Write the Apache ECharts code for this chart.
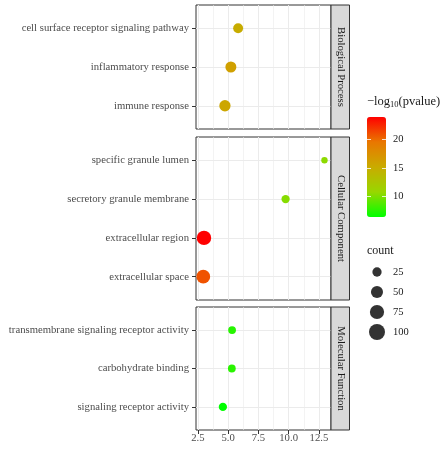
<!DOCTYPE html>
<html>
<head>
<meta charset="utf-8">
<script src="https://cdn.jsdelivr.net/npm/echarts@6/dist/echarts.min.js"></script>
<style>
  html, body { margin: 0; padding: 0; background: #ffffff; }
  #chart { width: 444px; height: 451px; }
</style>
</head>
<body>
<div id="chart"></div>
<script>
  // GO terms for each facet, top to bottom
  const bpTerms = ['cell surface receptor signaling pathway', 'inflammatory response', 'immune response'];
  const ccTerms = ['specific granule lumen', 'secretory granule membrane', 'extracellular region', 'extracellular space'];
  const mfTerms = ['transmembrane signaling receptor activity', 'carbohydrate binding', 'signaling receptor activity'];
  const facetNames = ['Biological Process', 'Cellular Component', 'Molecular Function'];

  // x value, -log10(pvalue), gene count
  const bpX = [5.83, 5.23, 4.74];
  const bpLogP = [15.0, 16.1, 15.6];
  const bpCount = [30, 39, 42];

  const ccX = [12.96, 9.75, 3.01, 2.95];
  const ccLogP = [10.4, 10.2, 24.0, 20.9];
  const ccCount = [8, 18, 78, 70];

  const mfX = [5.33, 5.31, 4.57];
  const mfLogP = [7.4, 7.5, 6.3];
  const mfCount = [15, 15, 18];

  const xMajorTicks = [2.5, 5.0, 7.5, 10.0, 12.5];
  const xMinorTicks = [3.75, 6.25, 8.75, 11.25];
  const colorTicks = [10, 15, 20];
  const countBreaks = [25, 50, 75, 100];

  const xMin = 2.35, xMax = 13.5;
  const pMin = 6.3, pMax = 24.0;

  const FONT = 'Liberation Serif';
  const AXIS_FONT = 10.7;
  const GRID_LINE = '#ebebeb';
  const DARK = '#333333';

  const facets = [
    { terms: bpTerms, x: bpX, logP: bpLogP, count: bpCount },
    { terms: ccTerms, x: ccX, logP: ccLogP, count: ccCount },
    { terms: mfTerms, x: mfX, logP: mfLogP, count: mfCount },
  ];

  // panel boxes (free space: height follows number of terms)
  const panelLeft = 196;
  const panelWidth = 135;
  const panelBox = [
    { top: 5, height: 124 },
    { top: 137, height: 163 },
    { top: 307, height: 123 },
  ];

  const sizeOf = (n) => 2.6 + 1.34 * Math.sqrt(n);

  const grids = [];
  const xAxes = [];
  const yAxes = [];
  const series = [];
  const graphics = [];

  facets.forEach((f, i) => {
    const isBottom = i === facets.length - 1;
    grids.push({
      left: panelLeft,
      top: panelBox[i].top,
      width: panelWidth,
      height: panelBox[i].height,
      show: true,
      borderColor: DARK,
      borderWidth: 1,
      backgroundColor: '#ffffff',
    });
    // major x grid + bottom labels
    xAxes.push({
      type: 'value',
      gridIndex: i,
      min: xMin,
      max: xMax,
      position: 'bottom',
      axisLine: { show: false, onZero: false },
      axisTick: {
        show: isBottom,
        customValues: xMajorTicks,
        length: 4,
        lineStyle: { color: DARK },
      },
      axisLabel: {
        show: isBottom,
        customValues: xMajorTicks,
        formatter: (v) => v.toFixed(1),
        color: '#4d4d4d',
        fontSize: AXIS_FONT,
        fontFamily: FONT,
        margin: 3,
      },
      splitLine: { show: true, lineStyle: { color: GRID_LINE, width: 1 } },
    });
    // minor x grid
    xAxes.push({
      type: 'value',
      gridIndex: i,
      min: xMin,
      max: xMax,
      position: 'top',
      axisLine: { show: false, onZero: false },
      axisTick: { show: false, customValues: xMinorTicks },
      axisLabel: { show: false },
      splitLine: { show: true, lineStyle: { color: GRID_LINE, width: 0.6 } },
    });
    const idx = f.terms.map((t, k) => k);
    yAxes.push({
      type: 'value',
      gridIndex: i,
      inverse: true,
      min: -0.6,
      max: f.terms.length - 1 + 0.6,
      axisLine: { show: false, onZero: false },
      axisTick: {
        show: true,
        customValues: idx,
        length: 4,
        lineStyle: { color: DARK },
      },
      axisLabel: {
        customValues: idx,
        formatter: (v) => f.terms[v],
        color: '#4d4d4d',
        fontSize: AXIS_FONT,
        fontFamily: FONT,
        margin: 7,
      },
      splitLine: { show: true, lineStyle: { color: GRID_LINE, width: 1 } },
    });
    series.push({
      type: 'scatter',
      xAxisIndex: i * 2,
      yAxisIndex: i,
      data: f.terms.map((t, k) => [f.x[k], k, f.logP[k], f.count[k]]),
      symbolSize: (d) => sizeOf(d[3]),
      itemStyle: { opacity: 1 },
      emphasis: { disabled: true },
      z: 5,
    });

    // facet strip on the right
    graphics.push({
      type: 'rect',
      shape: { x: panelLeft + panelWidth, y: panelBox[i].top, width: 18.5, height: panelBox[i].height },
      style: { fill: '#d9d9d9', stroke: DARK, lineWidth: 1 },
      z: 1,
    });
    graphics.push({
      type: 'text',
      x: panelLeft + panelWidth + 9.5,
      y: panelBox[i].top + panelBox[i].height / 2,
      rotation: -Math.PI / 2,
      style: {
        text: facetNames[i],
        fill: '#1a1a1a',
        font: AXIS_FONT + 'px "' + FONT + '"',
        align: 'center',
        verticalAlign: 'middle',
      },
      z: 2,
    });
  });

  // colour bar scale (sits over the visualMap bar)
  grids.push({ left: 367, top: 117, width: 19, height: 100 });
  xAxes.push({ type: 'value', gridIndex: 3, show: false, min: 0, max: 1 });
  const barTicks = {
    show: true,
    inside: true,
    length: 4,
    customValues: colorTicks,
    lineStyle: { color: '#ffffff', width: 1, opacity: 0.8 },
  };
  yAxes.push({
    type: 'value', gridIndex: 3, position: 'left', min: pMin, max: pMax, z: 10,
    axisLine: { show: false, onZero: false }, splitLine: { show: false },
    axisTick: barTicks,
    axisLabel: { show: false },
  });
  yAxes.push({
    type: 'value', gridIndex: 3, position: 'right', min: pMin, max: pMax, z: 10,
    axisLine: { show: false, onZero: false }, splitLine: { show: false },
    axisTick: barTicks,
    axisLabel: {
      customValues: colorTicks,
      color: '#1a1a1a',
      fontSize: 10.5,
      fontFamily: FONT,
      margin: 7,
    },
  });

  // count legend keys
  grids.push({ left: 367, top: 262, width: 20, height: 80 });
  xAxes.push({ type: 'value', gridIndex: 4, show: false, min: -1, max: 1 });
  yAxes.push({
    type: 'category', gridIndex: 4, position: 'right', inverse: true,
    data: countBreaks.map(String),
    axisLine: { show: false, onZero: false }, axisTick: { show: false }, splitLine: { show: false },
    axisLabel: { color: '#1a1a1a', fontSize: 10.5, fontFamily: FONT, margin: 6 },
  });
  series.push({
    type: 'scatter',
    xAxisIndex: 7,
    yAxisIndex: 5,
    data: countBreaks.map((c, k) => [0, k, c]),
    symbolSize: (d) => sizeOf(d[2]),
    itemStyle: { color: '#000000' },
    emphasis: { disabled: true },
    silent: true,
  });

  // legend titles
  graphics.push({
    type: 'text',
    x: 367,
    y: 102,
    style: {
      text: '−log{s|10}(pvalue)',
      fill: '#1a1a1a',
      font: '12.5px "' + FONT + '"',
      verticalAlign: 'middle',
      rich: { s: { fontSize: 8.5, fontFamily: FONT, fill: '#1a1a1a', padding: [6, 0, 0, 0] } },
    },
  });
  graphics.push({
    type: 'text',
    x: 367,
    y: 251,
    style: {
      text: 'count',
      fill: '#1a1a1a',
      font: '12px "' + FONT + '"',
      verticalAlign: 'middle',
    },
  });

  const chart = echarts.init(document.getElementById('chart'));
  chart.setOption({
    animation: false,
    backgroundColor: '#ffffff',
    textStyle: { fontFamily: FONT },
    grid: grids,
    xAxis: xAxes,
    yAxis: yAxes,
    visualMap: {
      type: 'continuous',
      min: pMin,
      max: pMax,
      dimension: 2,
      seriesIndex: [0, 1, 2],
      orient: 'vertical',
      left: 367,
      top: 117,
      padding: 0,
      itemWidth: 19,
      itemHeight: 100,
      calculable: false,
      hoverLink: false,
      text: null,
      inRange: { color: ['#00ff00', '#98d700', '#c9ab00', '#e97700', '#ff0000'] },
    },
    graphic: graphics,
    series: series,
  });
  window.addEventListener('resize', () => chart.resize());
</script>
</body>
</html>
